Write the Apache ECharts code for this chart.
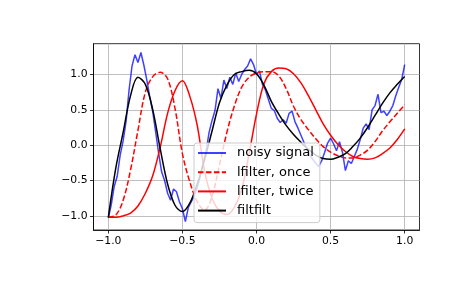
<!DOCTYPE html>
<html>
<head>
<meta charset="utf-8">
<script src="https://cdn.jsdelivr.net/npm/echarts@6/dist/echarts.min.js"></script>
<style>
html, body { margin: 0; padding: 0; background: #fff; }
#chart { width: 465px; height: 288px; }
</style>
</head>
<body>
<div id="chart"></div>
<script>
// sample times of the noisy signal (step 0.02)
const tNoisy = [
    -1.00, -0.98, -0.96, -0.94, -0.92, -0.90, -0.88, -0.86, -0.84, -0.82,
    -0.80, -0.78, -0.76, -0.74, -0.72, -0.70, -0.68, -0.66, -0.64, -0.62,
    -0.60, -0.58, -0.56, -0.54, -0.52, -0.50, -0.48, -0.46, -0.44, -0.42,
    -0.40, -0.38, -0.36, -0.34, -0.32, -0.30, -0.28, -0.26, -0.24, -0.22,
    -0.20, -0.18, -0.16, -0.14, -0.12, -0.10, -0.08, -0.06, -0.04, -0.02,
    0.00, 0.02, 0.04, 0.06, 0.08, 0.10, 0.12, 0.14, 0.16, 0.18,
    0.20, 0.22, 0.24, 0.26, 0.28, 0.30, 0.32, 0.34, 0.36, 0.38,
    0.40, 0.42, 0.44, 0.46, 0.48, 0.50, 0.52, 0.54, 0.56, 0.58,
    0.60, 0.62, 0.64, 0.66, 0.68, 0.70, 0.72, 0.74, 0.76, 0.78,
    0.80, 0.82, 0.84, 0.86, 0.88, 0.90, 0.92, 0.94, 0.96, 0.98,
    1.00
];
const noisy = [
    -1.03, -0.84, -0.58, -0.44, -0.14, 0.06, 0.34, 0.78, 1.12, 1.28,
    1.17, 1.31, 1.13, 0.92, 0.68, 0.47, 0.18, -0.12, -0.38, -0.50,
    -0.68, -0.78, -0.62, -0.66, -0.80, -0.90, -1.08, -0.88, -0.80, -0.72,
    -0.60, -0.45, -0.25, -0.08, 0.18, 0.35, 0.49, 0.80, 0.66, 0.92,
    0.80, 0.96, 0.86, 1.02, 0.90, 1.00, 1.07, 1.12, 1.22, 1.14,
    1.00, 1.05, 0.86, 0.78, 0.65, 0.52, 0.49, 0.38, 0.32, 0.36,
    0.31, 0.45, 0.48, 0.33, 0.24, 0.14, 0.04, -0.05, -0.14, -0.20,
    -0.26, -0.30, -0.22, -0.10, 0.03, 0.10, 0.02, -0.08, 0.05, -0.10,
    -0.36, -0.22, -0.26, -0.16, -0.06, 0.08, 0.24, 0.30, 0.22, 0.50,
    0.56, 0.72, 0.46, 0.48, 0.42, 0.48, 0.56, 0.70, 0.82, 0.93,
    1.14
];

// sample times of the filtered curves (step 0.05)
const tSmooth = [
    -1.00, -0.95, -0.90, -0.85, -0.80, -0.75, -0.70, -0.65, -0.60, -0.55,
    -0.50, -0.45, -0.40, -0.35, -0.30, -0.25, -0.20, -0.15, -0.10, -0.05,
    0.00, 0.05, 0.10, 0.15, 0.20, 0.25, 0.30, 0.35, 0.40, 0.45,
    0.50, 0.55, 0.60, 0.65, 0.70, 0.75, 0.80, 0.85, 0.90, 0.95,
    1.00
];
const lfilterOnce = [
    -1.02, -0.99, -0.78, -0.35, 0.21, 0.75, 0.97, 1.03, 0.94, 0.52,
    -0.12, -0.52, -0.80, -0.92, -0.72, -0.28, 0.18, 0.55, 0.82, 0.96,
    1.02, 1.04, 1.04, 0.98, 0.80, 0.55, 0.36, 0.22, 0.09, -0.02,
    -0.10, -0.15, -0.18, -0.18, -0.14, -0.07, 0.05, 0.20, 0.33, 0.45,
    0.57
];
const lfilterTwice = [
    -1.02, -1.02, -1.00, -0.96, -0.86, -0.68, -0.43, -0.03, 0.45, 0.77,
    0.91, 0.69, 0.28, -0.37, -0.75, -0.93, -0.98, -0.88, -0.62, -0.12,
    0.44, 0.87, 1.04, 1.09, 1.08, 1.01, 0.88, 0.70, 0.50, 0.30,
    0.14, 0.01, -0.09, -0.16, -0.19, -0.20, -0.18, -0.12, -0.04, 0.08,
    0.23
];
const filtfiltOut = [
    -1.02, -0.33, 0.18, 0.70, 0.96, 0.86, 0.50, -0.05, -0.55, -0.85,
    -0.94, -0.82, -0.55, -0.20, 0.20, 0.60, 0.85, 1.00, 1.04, 1.06,
    1.01, 0.85, 0.62, 0.44, 0.28, 0.15, 0.04, -0.06, -0.14, -0.19,
    -0.20, -0.17, -0.12, -0.02, 0.10, 0.25, 0.42, 0.59, 0.74, 0.86,
    0.97
];

const tickValues = [-1.0, -0.5, 0.0, 0.5, 1.0];
const seriesNames = ["noisy signal", "lfilter, once", "lfilter, twice", "filtfilt"];

const chart = echarts.init(document.getElementById("chart"));

function pairs(xs, ys) {
    return xs.map((x, i) => [x, ys[i]]);
}

function tickText(v) {
    return (v < 0 ? "\u2212" : "") + Math.abs(v).toFixed(1);
}

const font = "DejaVu Sans";

function axis(min, max) {
    return {
        type: "value",
        min: min,
        max: max,
        axisLine: { show: true, onZero: false, lineStyle: { color: "#000", width: 0.8 } },
        axisTick: {
            show: true,
            inside: false,
            length: 3.5,
            customValues: tickValues,
            lineStyle: { color: "#000", width: 0.8 }
        },
        axisLabel: {
            customValues: tickValues,
            formatter: tickText,
            fontSize: 10.8,
            fontFamily: font,
            color: "#000",
            margin: 6
        },
        splitLine: { show: true, lineStyle: { color: "#b0b0b0", width: 0.8 } }
    };
}

function lineSeries(name, data, color, extra) {
    return Object.assign({
        name: name,
        type: "line",
        data: data,
        showSymbol: false,
        symbol: "none",
        clip: true,
        color: color,
        lineStyle: { color: color, width: 1.5 }
    }, extra || {});
}

chart.setOption({
    animation: false,
    grid: {
        left: 93.5, right: 45.5, top: 43.7, bottom: 58,
        show: true, borderColor: "#000", borderWidth: 0.8, backgroundColor: "transparent"
    },
    xAxis: axis(-1.1, 1.1),
    yAxis: axis(-1.20, 1.435),
    legend: {
        orient: "vertical",
        left: 194,
        top: 143,
        itemWidth: 28,
        itemHeight: 14,
        itemGap: 5.2,
        padding: [3, 6, 5, 3],
        backgroundColor: "rgba(255,255,255,0.8)",
        borderColor: "#cccccc",
        borderWidth: 1,
        borderRadius: 3,
        itemStyle: { opacity: 0 },
        textStyle: { fontSize: 13, lineHeight: 14, fontFamily: font, color: "#000", padding: [0, 0, 0, 6] },
        data: seriesNames
    },
    series: [
        lineSeries(seriesNames[0], pairs(tNoisy, noisy), "#0000ff", {
            lineStyle: { color: "#0000ff", width: 1.5, opacity: 0.75 }
        }),
        lineSeries(seriesNames[1], pairs(tSmooth, lfilterOnce), "#ff0000", {
            smooth: 0.35,
            lineStyle: { color: "#ff0000", width: 1.5, type: [5.55, 2.4] }
        }),
        lineSeries(seriesNames[2], pairs(tSmooth, lfilterTwice), "#ff0000", { smooth: 0.35 }),
        lineSeries(seriesNames[3], pairs(tSmooth, filtfiltOut), "#000000", { smooth: 0.35 })
    ]
});
</script>
</body>
</html>
